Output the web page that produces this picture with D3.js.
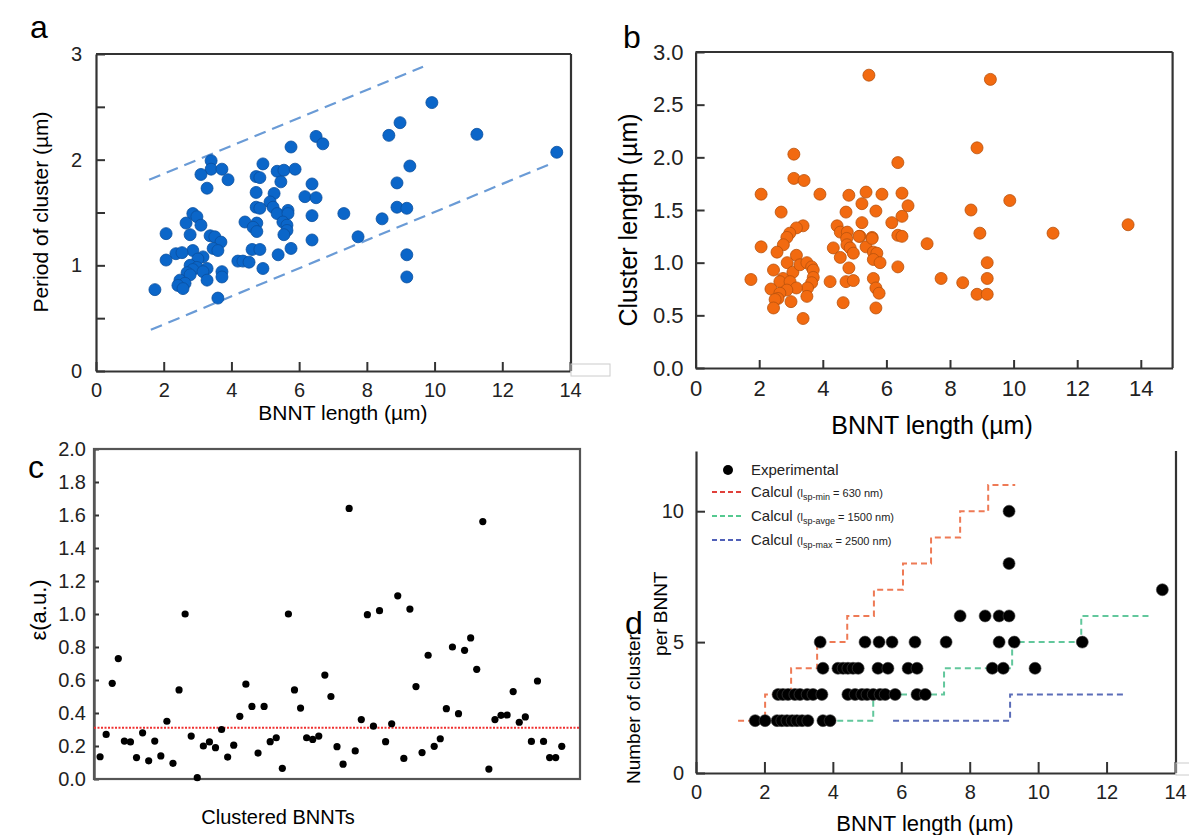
<!DOCTYPE html>
<html><head><meta charset="utf-8">
<script src="https://cdn.jsdelivr.net/npm/d3@7"></script>
<style>body{margin:0;background:#fff}svg{display:block;font-family:"Liberation Sans",Arial,sans-serif}</style>
</head><body>
<svg id="c" width="1189" height="835"></svg>
<script>
// ---------- DATA ----------
// Panel a: BNNT length (µm) vs period of cluster (µm)
const aX = [6.50,6.70,5.76,4.93,3.40,3.40,3.72,3.10,3.90,3.28,4.73,4.84,5.35,5.55,5.88,5.46,6.38,4.73,5.26,6.17,6.50,5.14,5.23,5.35,4.73,4.84,5.67,5.67,6.38,7.32,2.86,2.98,2.66,3.10,4.40,4.75,4.64,4.75,5.52,5.64,5.64,5.55,2.07,2.78,3.37,3.51,3.69,3.46,3.60,2.86,2.36,2.54,3.16,3.01,2.07,4.61,4.84,5.76,6.38,5.38,4.19,4.34,4.52,4.93,2.78,2.98,2.86,3.28,2.69,2.78,3.16,2.48,2.63,2.42,2.57,3.28,3.72,3.72,1.74,3.60,9.92,8.98,8.65,11.25,13.61,9.27,8.89,8.89,9.18,8.45,7.74,9.18,9.18];
const aY = [2.22,2.15,2.12,1.96,1.99,1.91,1.91,1.86,1.81,1.73,1.84,1.83,1.89,1.90,1.91,1.79,1.77,1.69,1.68,1.65,1.64,1.60,1.55,1.49,1.55,1.54,1.52,1.49,1.47,1.49,1.49,1.46,1.40,1.38,1.41,1.40,1.36,1.32,1.41,1.38,1.33,1.29,1.30,1.29,1.28,1.27,1.22,1.16,1.14,1.14,1.11,1.12,1.08,1.06,1.05,1.15,1.15,1.16,1.24,1.10,1.04,1.04,1.03,0.97,1.00,0.98,0.96,0.97,0.93,0.91,0.94,0.86,0.83,0.81,0.78,0.86,0.94,0.89,0.77,0.69,2.54,2.35,2.23,2.24,2.07,1.94,1.78,1.55,1.54,1.44,1.27,1.10,0.89];
const aBoundUpper = [[1.57,1.81],[9.66,2.88]];
const aBoundLower = [[1.62,0.39],[13.35,1.95]];
const aXTicks = [0,2,4,6,8,10,12,14];
const aYTicks = [0,0.5,1,1.5,2,2.5,3];
const aYLabels = [0,1,2,3];

// Panel b: BNNT length (µm) vs cluster length (µm)
const bX = [5.45,3.09,6.36,3.09,3.41,2.06,3.91,4.82,5.36,5.86,6.49,5.23,6.68,2.69,4.73,5.67,6.49,5.23,6.17,4.45,3.38,3.17,2.96,2.87,4.55,4.77,5.17,5.55,6.36,2.76,2.06,2.56,3.17,2.88,2.45,3.06,3.28,3.50,3.65,3.70,3.70,3.65,3.52,3.50,2.75,2.65,2.97,3.17,2.37,2.87,2.65,2.59,2.50,3.00,2.45,1.74,3.38,4.23,4.33,4.75,4.76,4.86,4.96,4.55,4.82,4.73,4.96,4.64,5.14,5.36,5.55,5.59,5.70,5.59,5.80,5.59,5.67,5.77,5.67,6.49,6.36,7.28,9.27,8.85,9.88,8.66,8.94,11.24,13.60,9.17,7.72,8.40,9.17,8.85,9.17];
const bY = [2.78,2.03,1.95,1.80,1.78,1.65,1.65,1.64,1.67,1.65,1.66,1.56,1.54,1.48,1.48,1.49,1.44,1.38,1.38,1.35,1.35,1.33,1.28,1.24,1.29,1.29,1.25,1.24,1.26,1.17,1.15,1.10,1.07,1.00,0.93,0.91,0.98,1.00,0.96,0.93,0.86,0.81,0.76,0.68,0.85,0.82,0.82,0.76,0.75,0.74,0.71,0.66,0.65,0.63,0.57,0.84,0.47,0.82,1.14,1.23,1.17,1.14,1.09,1.05,0.95,0.82,0.83,0.62,1.25,1.15,1.23,1.10,1.09,1.03,1.00,0.85,0.76,0.71,0.57,1.25,0.96,1.18,2.74,2.09,1.59,1.50,1.28,1.28,1.36,1.00,0.85,0.81,0.85,0.70,0.70];
const bXTicks = [0,2,4,6,8,10,12,14];
const bYTicks = [0,0.5,1,1.5,2,2.5,3];

// Panel c: strain per clustered BNNT
const cVals = [0.135,0.27,0.58,0.73,0.23,0.225,0.13,0.28,0.11,0.23,0.14,0.35,0.095,0.54,1.0,0.26,0.008,0.2,0.225,0.19,0.30,0.133,0.205,0.38,0.575,0.44,0.157,0.44,0.226,0.25,0.065,1.0,0.54,0.43,0.25,0.24,0.26,0.63,0.50,0.196,0.09,1.64,0.17,0.36,0.996,0.32,1.02,0.226,0.335,1.11,0.125,1.03,0.56,0.16,0.75,0.198,0.244,0.426,0.80,0.396,0.78,0.855,0.665,1.56,0.06,0.36,0.386,0.388,0.53,0.344,0.376,0.228,0.594,0.228,0.13,0.13,0.198];
const cThreshold = 0.31;
const cYTicks = [0,0.2,0.4,0.6,0.8,1.0,1.2,1.4,1.6,1.8,2.0];

// Panel d: number of clusters per BNNT
const dX = [1.73,2.02,2.37,2.51,2.66,2.81,2.95,3.10,3.27,3.71,3.92,
            2.40,2.54,2.69,2.89,3.04,3.25,3.42,3.68,4.44,4.65,4.85,5.00,5.18,5.38,5.53,5.82,6.46,6.70,
            3.71,4.15,4.30,4.44,4.59,4.74,5.32,5.61,6.20,6.46,8.66,8.98,9.91,
            3.63,4.94,5.35,5.73,6.40,7.31,8.86,9.30,11.29,
            7.72,8.45,8.86,9.15,
            13.63, 9.15, 9.15];
const dY = [2,2,2,2,2,2,2,2,2,2,2,
            3,3,3,3,3,3,3,3,3,3,3,3,3,3,3,3,3,3,
            4,4,4,4,4,4,4,4,4,4,4,4,4,
            5,5,5,5,5,5,5,5,5,
            6,6,6,6,
            7, 8, 10];
const redStepX = [1.23,2.02,2.78,3.54,4.42,5.20,6.05,6.87,7.72,8.54,9.33];
const redStepY = [2,3,4,5,6,7,8,9,10,11,11];
const greenStepX = [3.25,5.18,7.25,9.24,11.26,13.27];
const greenStepY = [2,3,4,5,6,6];
const blueStepX = [5.76,9.18,12.54];
const blueStepY = [2,3,3];
const dXTicks = [0,2,4,6,8,10,12,14];
const dYTicks = [0,5,10];

// ---------- DRAW ----------
const svg = d3.select("#c");
const AX = "#333";

function frame(g, x0, x1, y0, y1, sides){
  if (sides.includes("t")) g.append("line").attr("x1",x0).attr("x2",x1).attr("y1",y0).attr("y2",y0).attr("stroke",AX).attr("stroke-width",2.2);
  if (sides.includes("r")) g.append("line").attr("x1",x1).attr("x2",x1).attr("y1",y0).attr("y2",y1).attr("stroke",AX).attr("stroke-width",2.2);
}
function styleAxis(sel, fs){
  sel.select(".domain").attr("stroke",AX).attr("stroke-width",2.2);
  sel.selectAll(".tick line").attr("stroke",AX).attr("stroke-width",2);
  sel.selectAll(".tick text").attr("font-size",fs).attr("fill","#222").attr("font-family","Liberation Sans, Arial, sans-serif");
}

// Panel a
{
  const x = d3.scaleLinear().domain([0,14]).range([96,570]);
  const y = d3.scaleLinear().domain([0,3]).range([371,54]);
  const g = svg.append("g");
  const xa = g.append("g").attr("transform","translate(0,371)")
    .call(d3.axisBottom(x).tickValues(aXTicks).tickSizeInner(-9).tickSizeOuter(0).tickPadding(12));
  styleAxis(xa, 20);
  const ya = g.append("g").attr("transform","translate(96,0)")
    .call(d3.axisLeft(y).tickValues(aYTicks).tickSizeInner(-9).tickSizeOuter(0).tickPadding(14)
      .tickFormat(d => aYLabels.includes(d) ? d3.format("d")(d) : ""));
  styleAxis(ya, 20);
  frame(g, 96, 571, 54, 371, "tr");
  g.append("rect").attr("x",571).attr("y",364).attr("width",39).attr("height",12).attr("fill","none").attr("stroke","#ccc").attr("stroke-width",1);
  const line = d3.line().x(d=>x(d[0])).y(d=>y(d[1]));
  [aBoundUpper, aBoundLower].forEach(b => g.append("path").attr("d",line(b)).attr("fill","none")
      .attr("stroke","#6a9bd6").attr("stroke-width",2.2).attr("stroke-dasharray","12,7"));
  g.selectAll("circle.p").data(aX).join("circle").attr("cx",d=>x(d)).attr("cy",(d,i)=>y(aY[i])).attr("r",6)
    .attr("fill","#0b66c9").attr("stroke","#0a4f9e").attr("stroke-width",0.8);
  g.append("text").attr("x",343).attr("y",420).attr("text-anchor","middle").attr("font-size",21).text("BNNT length (µm)");
  g.append("text").attr("transform","translate(48,212) rotate(-90)").attr("text-anchor","middle").attr("font-size",21).text("Period of cluster (µm)");
  g.append("text").attr("x",30).attr("y",38).attr("font-size",32).text("a");
}

// Panel b
{
  const x = d3.scaleLinear().domain([0,15]).range([695.6,1172.6]);
  const y = d3.scaleLinear().domain([0,3]).range([368,52]);
  const g = svg.append("g");
  const xa = g.append("g").attr("transform","translate(0,368)")
    .call(d3.axisBottom(x).tickValues(bXTicks).tickSizeInner(-8).tickSizeOuter(0).tickPadding(12));
  styleAxis(xa, 22);
  const ya = g.append("g").attr("transform","translate(695.6,0)")
    .call(d3.axisLeft(y).tickValues(bYTicks).tickSizeInner(-9).tickSizeOuter(0).tickPadding(12).tickFormat(d3.format(".1f")));
  styleAxis(ya, 22);
  frame(g, 695.6, 1172.6, 52, 368, "tr");
  g.selectAll("circle.p").data(bX).join("circle").attr("cx",d=>x(d)).attr("cy",(d,i)=>y(bY[i])).attr("r",6)
    .attr("fill","#f26a10").attr("stroke","#b8520c").attr("stroke-width",0.8);
  g.append("text").attr("x",932).attr("y",434).attr("text-anchor","middle").attr("font-size",25).text("BNNT length (µm)");
  g.append("text").attr("transform","translate(637,220) rotate(-90)").attr("text-anchor","middle").attr("font-size",25).text("Cluster length (µm)");
  g.append("text").attr("x",623).attr("y",48).attr("font-size",32).text("b");
}

// Panel c
{
  const x = d3.scaleLinear().domain([0,80]).range([94,580]);
  const y = d3.scaleLinear().domain([0,2]).range([779,449]);
  const g = svg.append("g");
  const ya = g.append("g").attr("transform","translate(94,0)")
    .call(d3.axisLeft(y).tickValues(cYTicks).tickSizeInner(-5).tickSizeOuter(0).tickPadding(8).tickFormat(d3.format(".1f")));
  styleAxis(ya, 20);
  g.append("rect").attr("x",94).attr("y",449).attr("width",486).attr("height",330).attr("fill","none").attr("stroke","#555").attr("stroke-width",2.2);
  g.append("line").attr("x1",94).attr("x2",580).attr("y1",y(cThreshold)).attr("y2",y(cThreshold))
    .attr("stroke","#f03030").attr("stroke-width",2).attr("stroke-dasharray","2,1.5");
  g.selectAll("circle.p").data(cVals).join("circle").attr("cx",(d,i)=>x(i+1)).attr("cy",d=>y(d)).attr("r",3.6).attr("fill","#000");
  g.append("text").attr("x",278).attr("y",824).attr("text-anchor","middle").attr("font-size",20).text("Clustered BNNTs");
  g.append("text").attr("transform","translate(46,610) rotate(-90)").attr("text-anchor","middle").attr("font-size",22).text("ε(a.u.)");
  g.append("text").attr("x",28).attr("y",478).attr("font-size",32).text("c");
}

// Panel d
{
  const x = d3.scaleLinear().domain([0,14]).range([696,1175]);
  const y = d3.scaleLinear().domain([0,12.3]).range([773,451]);
  const g = svg.append("g");
  const xa = g.append("g").attr("transform","translate(0,773)")
    .call(d3.axisBottom(x).tickValues(dXTicks).tickSizeInner(-11).tickSizeOuter(0).tickPadding(12));
  styleAxis(xa, 20);
  const ya = g.append("g").attr("transform","translate(696,0)")
    .call(d3.axisLeft(y).tickValues(dYTicks).tickSizeInner(-9).tickSizeOuter(0).tickPadding(12));
  styleAxis(ya, 20);
  frame(g, 696, 1176, 451, 773, "r");
  g.append("rect").attr("x",1176).attr("y",763).attr("width",20).attr("height",12).attr("fill","none").attr("stroke","#ccc").attr("stroke-width",1);
  const step = d3.line().x(d=>x(d[0])).y(d=>y(d[1])).curve(d3.curveStepAfter);
  const steps = [[redStepX,redStepY,"#ee7a55"],[greenStepX,greenStepY,"#62c79c"],[blueStepX,blueStepY,"#5b6db8"]];
  steps.forEach(([xs,ys,c]) => g.append("path").attr("d",step(xs.map((v,i)=>[v,ys[i]]))).attr("fill","none")
     .attr("stroke",c).attr("stroke-width",2).attr("stroke-dasharray","6,4"));
  g.selectAll("circle.p").data(dX).join("circle").attr("cx",d=>x(d)).attr("cy",(d,i)=>y(dY[i])).attr("r",6).attr("fill","#000")
    .attr("stroke","#444").attr("stroke-width",0.6);
  // legend
  const L = g.append("g");
  L.append("circle").attr("cx",728).attr("cy",470).attr("r",5).attr("fill","#000");
  L.append("text").attr("x",751).attr("y",475).attr("font-size",15).attr("fill","#222").text("Experimental");
  const leg = [["#e0403a","min","630"],["#55c990","avge","1500"],["#5060b8","max","2500"]];
  leg.forEach((d,i) => {
    const yy = 492 + i*24;
    L.append("line").attr("x1",712).attr("x2",743).attr("y1",yy).attr("y2",yy).attr("stroke",d[0]).attr("stroke-width",2).attr("stroke-dasharray","5,3");
    const t = L.append("text").attr("x",751).attr("y",yy+5).attr("font-size",15).attr("fill","#222");
    t.append("tspan").text("Calcul ");
    t.append("tspan").attr("font-size",11).text("(l");
    t.append("tspan").attr("font-size",9).attr("dy",3).text("sp-" + d[1]);
    t.append("tspan").attr("font-size",11).attr("dy",-3).text(" = " + d[2] + " nm)");
  });
  g.append("text").attr("x",925).attr("y",831).attr("text-anchor","middle").attr("font-size",22).text("BNNT length (µm)");
  g.append("text").attr("transform","translate(640,784) rotate(-90)").attr("text-anchor","start").attr("font-size",19).text("Number of cluster");
  g.append("text").attr("transform","translate(667,656) rotate(-90)").attr("text-anchor","start").attr("font-size",19).text("per BNNT");
  g.append("text").attr("x",625).attr("y",634).attr("font-size",32).text("d");
}
</script>
</body></html>
